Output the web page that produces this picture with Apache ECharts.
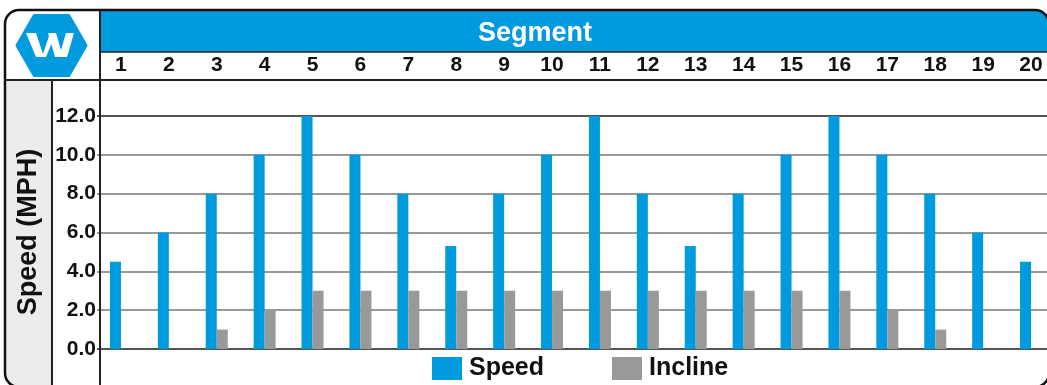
<!DOCTYPE html>
<html>
<head>
<meta charset="utf-8">
<script src="https://cdn.jsdelivr.net/npm/echarts@6/dist/echarts.min.js"></script>
<style>
  html, body { margin: 0; padding: 0; background: #fff; }
  #main { width: 1047px; height: 385px; }
</style>
</head>
<body>
<div id="main"></div>
<script>
  // segment numbers along the top
  const segments = ['1', '2', '3', '4', '5', '6', '7', '8', '9', '10',
    '11', '12', '13', '14', '15', '16', '17', '18', '19', '20']
  const speed = [4.5, 6, 8, 10, 12, 10, 8, 5.3, 8, 10, 12, 8, 5.3, 8, 10, 12, 10, 8, 6, 4.5]
  const incline = [0, 0, 1, 2, 3, 3, 3, 3, 3, 3, 3, 3, 3, 3, 3, 3, 2, 1, 0, 0]

  const BLUE = '#009ADE'
  const GREY = '#999999'
  const FONT = 'Liberation Sans'

  // hexagon logo, flat top and bottom
  const cx = 51.5, cy = 45.5, R = 34.5
  const hex = []
  for (let i = 0; i < 6; i++) {
    const a = Math.PI / 3 * i
    hex.push([cx + R * Math.cos(a), cy + R * Math.sin(a)])
  }

  const chart = echarts.init(document.getElementById('main'))
  const option = {
    animation: false,
    textStyle: { fontFamily: FONT },
    title: {
      text: 'Segment',
      left: 473,
      top: 15,
      textStyle: { color: '#fff', fontSize: 27, fontWeight: 'bold', fontFamily: FONT }
    },
    legend: {
      left: 427,
      top: 351,
      icon: 'rect',
      itemWidth: 30,
      itemHeight: 23,
      itemGap: 68,
      textStyle: { color: '#111', fontSize: 25, fontWeight: 'bold', fontFamily: FONT, padding: [0, 0, 0, 2] },
      data: ['Speed', 'Incline']
    },
    // plot runs a little past the right edge of the picture
    grid: { left: 97, width: 958, top: 116, bottom: 36, outerBoundsMode: 'none' },
    xAxis: {
      type: 'category',
      position: 'top',
      data: segments,
      offset: 36,
      axisLine: { show: false },
      axisTick: { show: false },
      axisLabel: { margin: 4, color: '#111', fontSize: 21, fontWeight: 'bold', fontFamily: FONT }
    },
    yAxis: {
      type: 'value',
      min: 0,
      max: 12,
      interval: 2,
      axisLine: { show: false },
      axisTick: { show: false },
      axisLabel: {
        margin: 1,
        color: '#111',
        fontSize: 21,
        fontWeight: 'bold',
        fontFamily: FONT,
        formatter: v => v.toFixed(1)
      },
      splitLine: {
        lineStyle: {
          width: 2,
          color: ['#555', '#999', '#999', '#999', '#999', '#999', '#555']
        }
      }
    },
    graphic: [
      // grey strip behind the y name
      {
        type: 'rect', z: -10,
        shape: { x: 4, y: 80, width: 48, height: 306, r: [0, 0, 0, 14] },
        style: { fill: '#ececec' }
      },
      // blue header band
      {
        type: 'rect', z: -10,
        shape: { x: 100, y: 10, width: 948, height: 42, r: [0, 12, 0, 0] },
        style: { fill: BLUE }
      },
      // outer frame, bottom edge falls just off the picture
      {
        type: 'rect', z: 5,
        shape: { x: 5, y: 10, width: 1044, height: 377, r: 14 },
        style: { fill: 'none', stroke: '#111', lineWidth: 2.5 }
      },
      { type: 'line', z: 5, shape: { x1: 100, y1: 52, x2: 1047, y2: 52 }, style: { stroke: '#222', lineWidth: 1.5 } },
      { type: 'line', z: 5, shape: { x1: 5, y1: 80, x2: 1047, y2: 80 }, style: { stroke: '#222', lineWidth: 2 } },
      { type: 'line', z: 5, shape: { x1: 100, y1: 10, x2: 100, y2: 385 }, style: { stroke: '#222', lineWidth: 2 } },
      { type: 'line', z: 5, shape: { x1: 52, y1: 80, x2: 52, y2: 385 }, style: { stroke: '#222', lineWidth: 2 } },
      // logo
      {
        type: 'polygon', z: 1,
        shape: { points: hex },
        style: { fill: BLUE, lineJoin: 'round', stroke: BLUE, lineWidth: 3 }
      },
      { type: 'polygon', z: 2, shape: { points: [[26, 33], [36, 33], [44, 57], [36, 57]] }, style: { fill: '#fff' } },
      { type: 'polygon', z: 2, shape: { points: [[42, 57], [46, 57], [53, 40], [50, 33]] }, style: { fill: '#fff' } },
      { type: 'polygon', z: 2, shape: { points: [[48, 33], [56, 33], [63, 57], [55, 57]] }, style: { fill: '#fff' } },
      { type: 'polygon', z: 2, shape: { points: [[59, 57], [67, 57], [74, 33], [66, 33]] }, style: { fill: '#fff' } },
      // y axis name
      {
        type: 'text', z: 5,
        x: 29, y: 232, rotation: Math.PI / 2,
        style: {
          text: 'Speed (MPH)', fill: '#111',
          font: 'bold 27px "Liberation Sans"',
          align: 'center', verticalAlign: 'middle'
        }
      }
    ],
    series: [
      {
        name: 'Speed',
        type: 'bar',
        data: speed,
        barWidth: 11,
        barGap: '0%',
        itemStyle: { color: BLUE }
      },
      {
        name: 'Incline',
        type: 'bar',
        data: incline,
        barWidth: 11,
        itemStyle: { color: GREY }
      }
    ]
  }
  option && chart.setOption(option)
</script>
</body>
</html>
